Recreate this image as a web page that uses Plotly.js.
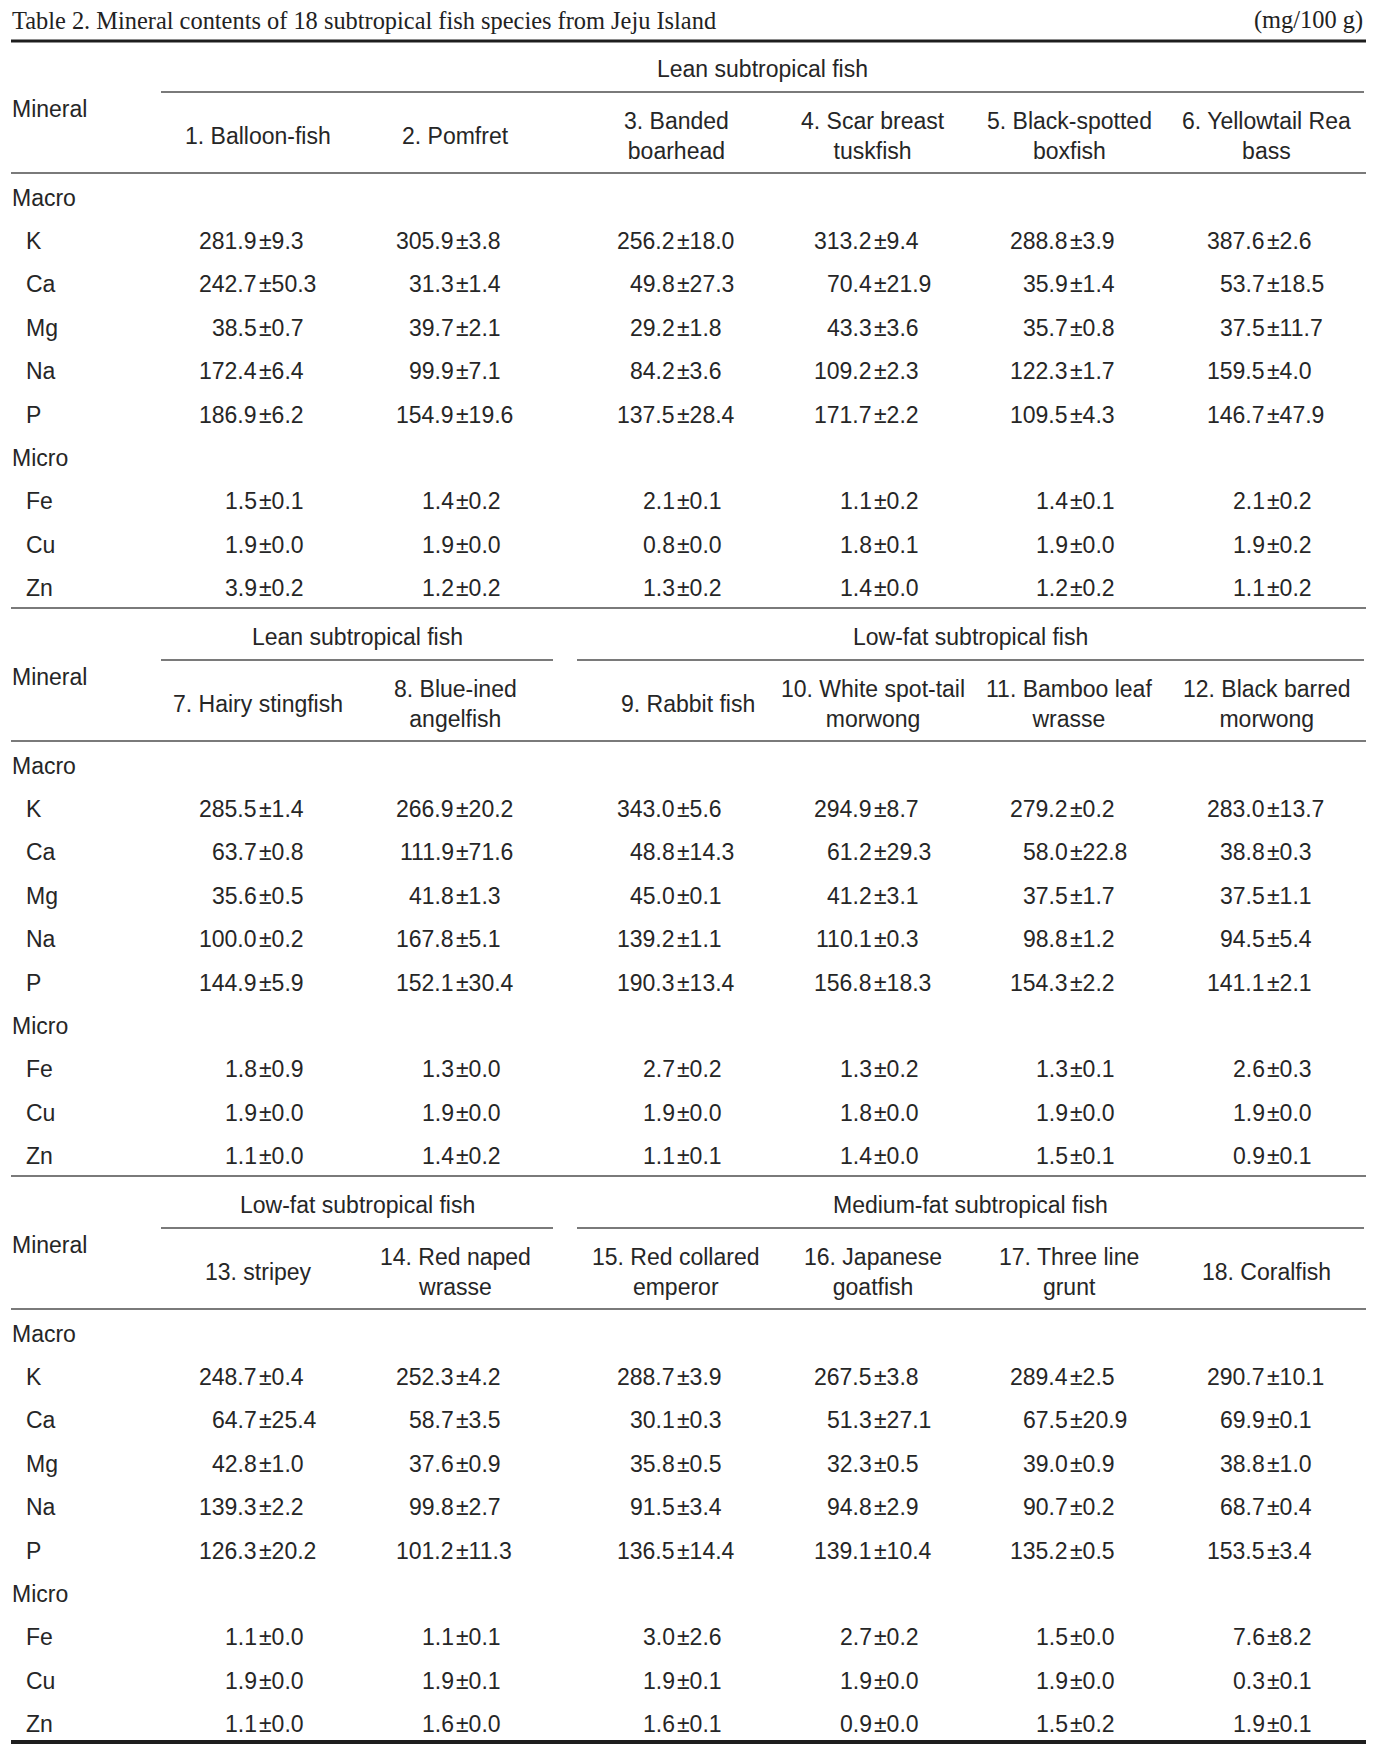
<!DOCTYPE html>
<html><head><meta charset="utf-8">
<script src="https://cdn.plot.ly/plotly-3.0.1.min.js"></script>
<style>html,body{margin:0;padding:0;background:#fff}</style>
</head><body><div id="chart" style="width:1384px;height:1746px"></div>
<script>
// ---------------- DATA ----------------
const tableTitle = "Table 2. Mineral contents of 18 subtropical fish species from Jeju Island";
const unitLabel = "(mg/100 g)";
const fishNames = [
  "1. Balloon-fish", "2. Pomfret", "3. Banded<br>boarhead", "4. Scar breast<br>tuskfish",
  "5. Black-spotted<br>boxfish", "6. Yellowtail Rea<br>bass",
  "7. Hairy stingfish", "8. Blue-ined<br>angelfish", "9. Rabbit fish",
  "10. White spot-tail<br>morwong", "11. Bamboo leaf<br>wrasse", "12. Black barred<br>morwong",
  "13. stripey", "14. Red naped<br>wrasse", "15. Red collared<br>emperor",
  "16. Japanese<br>goatfish", "17. Three line<br>grunt", "18. Coralfish"
];
const groupNames = ["Lean subtropical fish", "Low-fat subtropical fish", "Medium-fat subtropical fish"];
const fishGroup = [0,0,0,0,0,0, 0,0,1,1,1,1, 1,1,2,2,2,2];
const columnLabel = "Mineral";
const macroLabel = "Macro";
const microLabel = "Micro";
const macroMinerals = ["K", "Ca", "Mg", "Na", "P"];
const microMinerals = ["Fe", "Cu", "Zn"];

const K_mean  = [281.9,305.9,256.2,313.2,288.8,387.6, 285.5,266.9,343.0,294.9,279.2,283.0, 248.7,252.3,288.7,267.5,289.4,290.7];
const K_sd    = [9.3,3.8,18.0,9.4,3.9,2.6, 1.4,20.2,5.6,8.7,0.2,13.7, 0.4,4.2,3.9,3.8,2.5,10.1];
const Ca_mean = [242.7,31.3,49.8,70.4,35.9,53.7, 63.7,111.9,48.8,61.2,58.0,38.8, 64.7,58.7,30.1,51.3,67.5,69.9];
const Ca_sd   = [50.3,1.4,27.3,21.9,1.4,18.5, 0.8,71.6,14.3,29.3,22.8,0.3, 25.4,3.5,0.3,27.1,20.9,0.1];
const Mg_mean = [38.5,39.7,29.2,43.3,35.7,37.5, 35.6,41.8,45.0,41.2,37.5,37.5, 42.8,37.6,35.8,32.3,39.0,38.8];
const Mg_sd   = [0.7,2.1,1.8,3.6,0.8,11.7, 0.5,1.3,0.1,3.1,1.7,1.1, 1.0,0.9,0.5,0.5,0.9,1.0];
const Na_mean = [172.4,99.9,84.2,109.2,122.3,159.5, 100.0,167.8,139.2,110.1,98.8,94.5, 139.3,99.8,91.5,94.8,90.7,68.7];
const Na_sd   = [6.4,7.1,3.6,2.3,1.7,4.0, 0.2,5.1,1.1,0.3,1.2,5.4, 2.2,2.7,3.4,2.9,0.2,0.4];
const P_mean  = [186.9,154.9,137.5,171.7,109.5,146.7, 144.9,152.1,190.3,156.8,154.3,141.1, 126.3,101.2,136.5,139.1,135.2,153.5];
const P_sd    = [6.2,19.6,28.4,2.2,4.3,47.9, 5.9,30.4,13.4,18.3,2.2,2.1, 20.2,11.3,14.4,10.4,0.5,3.4];
const Fe_mean = [1.5,1.4,2.1,1.1,1.4,2.1, 1.8,1.3,2.7,1.3,1.3,2.6, 1.1,1.1,3.0,2.7,1.5,7.6];
const Fe_sd   = [0.1,0.2,0.1,0.2,0.1,0.2, 0.9,0.0,0.2,0.2,0.1,0.3, 0.0,0.1,2.6,0.2,0.0,8.2];
const Cu_mean = [1.9,1.9,0.8,1.8,1.9,1.9, 1.9,1.9,1.9,1.8,1.9,1.9, 1.9,1.9,1.9,1.9,1.9,0.3];
const Cu_sd   = [0.0,0.0,0.0,0.1,0.0,0.2, 0.0,0.0,0.0,0.0,0.0,0.0, 0.0,0.1,0.1,0.0,0.0,0.1];
const Zn_mean = [3.9,1.2,1.3,1.4,1.2,1.1, 1.1,1.4,1.1,1.4,1.5,0.9, 1.1,1.6,1.6,0.9,1.5,1.9];
const Zn_sd   = [0.2,0.2,0.2,0.0,0.2,0.2, 0.0,0.2,0.1,0.0,0.1,0.1, 0.0,0.0,0.1,0.0,0.2,0.1];

// ---------------- LAYOUT CONSTANTS ----------------
const W = 1384, H = 1746;
const meansBy = {K:K_mean, Ca:Ca_mean, Mg:Mg_mean, Na:Na_mean, P:P_mean, Fe:Fe_mean, Cu:Cu_mean, Zn:Zn_mean};
const sdsBy   = {K:K_sd, Ca:Ca_sd, Mg:Mg_sd, Na:Na_sd, P:P_sd, Fe:Fe_sd, Cu:Cu_sd, Zn:Zn_sd};

const leftX = 11, rightX = 1366;
const labelX = 11, elemX = 25;
const colX = [258, 455, 676, 873, 1069, 1266];
const colEdges = [161, 357, 565, 775, 971, 1167, 1364];
const spanGap = 12;
const headerNudge = {8: 12};
const secH = 568;
const yTitle = 20, yTop = 41;
const yGroup = 69, yGroupLine = 92, yMineral = 109, yHeader = 135.5, yHeaderLine = 173;
const yMacro = 198, yFirstRow = 241, rowStep = 43.4, yEnd = 608;

const sansFont = {family: "'Liberation Sans', Arial, Helvetica, sans-serif", size: 23, color: "#262626"};
const serifFont = {family: "'Liberation Serif', 'Times New Roman', Times, serif", size: 24.4, color: "#222"};
const thin = {color: "#7a7a7a", width: 2};
const thick = {color: "#1e1e1e", width: 3};

const annotations = [];
const shapes = [];
function txt(x, y, text, anchor, font) {
  annotations.push({x: x, y: y, xref: "x", yref: "y", text: text, showarrow: false,
    xanchor: anchor || "center", yanchor: "middle", font: font || sansFont, align: "center", borderpad: 0});
}
function hline(x0, x1, y, line) {
  shapes.push({type: "line", xref: "x", yref: "y", x0: x0, x1: x1, y0: y, y1: y, line: line});
}

// title
txt(leftX, yTitle, tableTitle, "left", serifFont);
txt(rightX - 2, yTitle, unitLabel, "right", serifFont);
hline(leftX, rightX, yTop, thick);

const minerals = macroMinerals.concat(microMinerals);
for (let s = 0; s < 3; s++) {
  const off = s * secH;
  const fishIdx = [0,1,2,3,4,5].map(c => s * 6 + c);
  // group spans
  let c = 0;
  while (c < 6) {
    const g = fishGroup[fishIdx[c]];
    let e = c;
    while (e + 1 < 6 && fishGroup[fishIdx[e + 1]] === g) e++;
    const x0 = colEdges[c] + (c > 0 ? spanGap : 0);
    const x1 = colEdges[e + 1] - (e < 5 ? spanGap : 0);
    hline(x0, x1, off + yGroupLine, thin);
    txt((x0 + x1) / 2, off + yGroup, groupNames[g], "center");
    c = e + 1;
  }
  txt(labelX, off + yMineral, columnLabel, "left");
  fishIdx.forEach((f, ci) => txt(colX[ci] + (headerNudge[f] || 0), off + yHeader, fishNames[f], "center"));
  hline(leftX, rightX, off + yHeaderLine, thin);

  txt(labelX, off + yMacro, macroLabel, "left");
  // rows: K..P at rows 0-4, Micro label row 5, Fe..Zn rows 6-8
  minerals.forEach((m, mi) => {
    const row = mi < macroMinerals.length ? mi : mi + 1;
    const y = off + yFirstRow + row * rowStep;
    txt(elemX, y, m, "left");
    fishIdx.forEach((f, ci) => {
      txt(colX[ci], y, meansBy[m][f].toFixed(1), "right");
      txt(colX[ci], y, "±" + sdsBy[m][f].toFixed(1), "left");
    });
  });
  txt(labelX, off + yFirstRow + macroMinerals.length * rowStep, microLabel, "left");
  if (s < 2) hline(leftX, rightX, off + yEnd, thin);
  else hline(leftX, rightX, off + yEnd - 2, {color: "#1e1e1e", width: 4});
}

const layout = {
  width: W, height: H,
  margin: {l: 0, r: 0, t: 0, b: 0, pad: 0},
  paper_bgcolor: "#fff", plot_bgcolor: "#fff",
  showlegend: false,
  xaxis: {range: [0, W], visible: false, fixedrange: true},
  yaxis: {range: [H, 0], visible: false, fixedrange: true},
  annotations: annotations,
  shapes: shapes
};
Plotly.newPlot("chart", [{type: "scatter", x: [], y: [], mode: "markers", hoverinfo: "skip"}], layout,
  {staticPlot: true, displayModeBar: false});
</script>
</body></html>
